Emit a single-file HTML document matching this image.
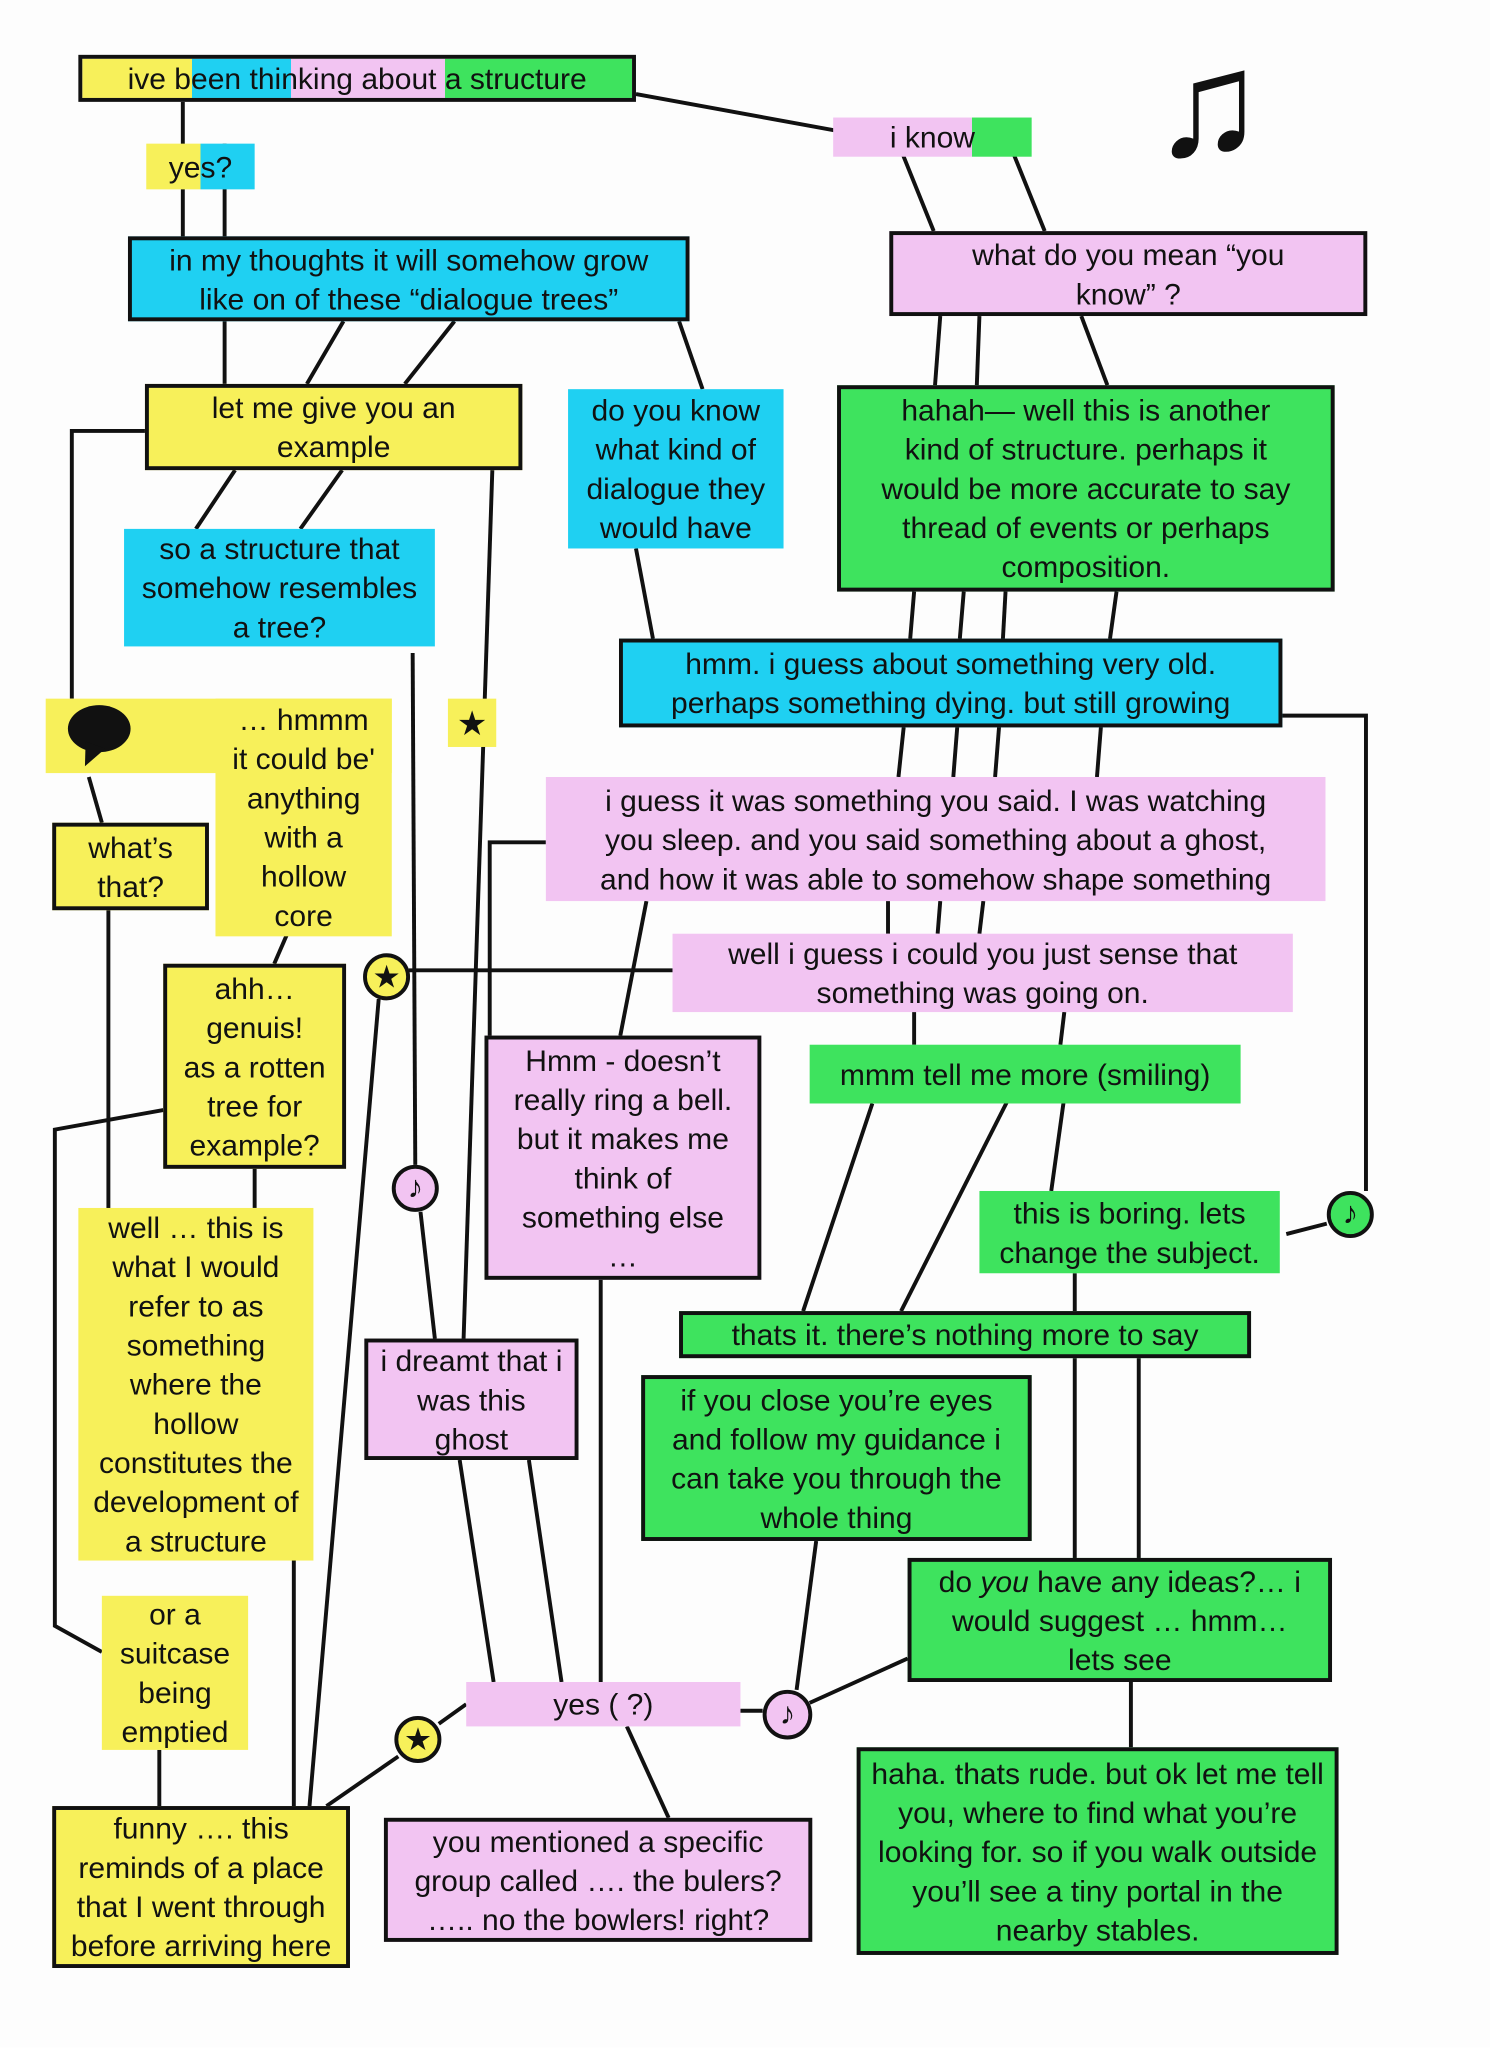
<!DOCTYPE html>
<html><head><meta charset="utf-8"><style>
html,body{margin:0;padding:0;background:#fff;}
#w{position:relative;width:1141px;height:1568px;transform:scale(1.3059);transform-origin:0 0;font-family:"Liberation Sans",sans-serif;color:#111;overflow:hidden;background:#fdfdfd}
.b{position:absolute;box-sizing:border-box;border:3px solid #111;display:flex;align-items:center;justify-content:center;text-align:center;font-size:23px;line-height:30px}
.h{position:absolute;box-sizing:border-box;display:flex;align-items:center;justify-content:center;text-align:center;font-size:23px;line-height:30px}
.Y{background:#f7f05a}.C{background:#1fd0f2}.P{background:#f2c4f2}.G{background:#3ee35e}
.c{position:absolute;box-sizing:border-box;border:3px solid #111;border-radius:50%;display:flex;align-items:center;justify-content:center;font-size:24px}
svg{position:absolute;left:0;top:0}
</style></head><body><div id="w">
<svg width="1141" height="1568"><g stroke="#111" stroke-width="3" fill="none">
<line x1="487" y1="72" x2="640" y2="100"/>
<line x1="140" y1="78" x2="140" y2="181"/><line x1="172" y1="110" x2="172" y2="181"/>
<line x1="690" y1="115" x2="715" y2="177"/><line x1="775" y1="115" x2="800" y2="177"/>
<line x1="172" y1="246" x2="172" y2="294"/><line x1="263" y1="246" x2="235" y2="294"/><line x1="348" y1="246" x2="310" y2="294"/>
<line x1="520" y1="246" x2="538" y2="298"/>
<line x1="720" y1="242" x2="716" y2="295"/><line x1="750" y1="242" x2="748" y2="295"/><line x1="828" y1="242" x2="848" y2="295"/>
<line x1="180" y1="360" x2="150" y2="405"/><line x1="262" y1="360" x2="230" y2="405"/>
<polyline points="111,330 55,330 55,535"/>
<line x1="68" y1="595" x2="78" y2="630"/>
<line x1="377" y1="360" x2="355" y2="1025"/>
<line x1="316" y1="500" x2="318" y2="892"/>
<line x1="487" y1="420" x2="500" y2="489"/>
<line x1="700" y1="453" x2="697" y2="489"/><line x1="738" y1="453" x2="735" y2="489"/><line x1="770" y1="453" x2="768" y2="489"/><line x1="855" y1="453" x2="850" y2="489"/>
<line x1="692" y1="557" x2="688" y2="595"/><line x1="733" y1="557" x2="730" y2="595"/><line x1="765" y1="557" x2="762" y2="595"/><line x1="843" y1="557" x2="840" y2="595"/>
<polyline points="982,548 1046,548 1046,912"/>
<line x1="680" y1="690" x2="680" y2="715"/><line x1="720" y1="690" x2="718" y2="715"/><line x1="753" y1="690" x2="750" y2="715"/>
<polyline points="418,645 375,645 375,793"/>
<line x1="495" y1="690" x2="475" y2="793"/>
<line x1="313" y1="743" x2="515" y2="743"/>
<line x1="210" y1="738" x2="220" y2="715"/>
<line x1="83" y1="697" x2="83" y2="930"/>
<polyline points="125,850 42,865 42,1245 78,1265"/>
<line x1="195" y1="895" x2="195" y2="925"/>
<line x1="290" y1="765" x2="237" y2="1383"/>
<line x1="322" y1="928" x2="333" y2="1025"/>
<line x1="700" y1="775" x2="700" y2="800"/><line x1="815" y1="775" x2="812" y2="800"/>
<line x1="668" y1="845" x2="615" y2="1004"/><line x1="773" y1="840" x2="690" y2="1004"/><line x1="815" y1="840" x2="805" y2="912"/>
<line x1="823" y1="975" x2="823" y2="1004"/><line x1="985" y1="945" x2="1016" y2="937"/>
<line x1="460" y1="980" x2="460" y2="1288"/>
<line x1="823" y1="1040" x2="823" y2="1193"/><line x1="872" y1="1040" x2="872" y2="1193"/>
<line x1="625" y1="1180" x2="610" y2="1294"/>
<line x1="620" y1="1304" x2="695" y2="1270"/>
<line x1="866" y1="1288" x2="866" y2="1338"/>
<line x1="352" y1="1118" x2="378" y2="1288"/><line x1="405" y1="1118" x2="430" y2="1288"/>
<line x1="480" y1="1322" x2="512" y2="1392"/>
<line x1="357" y1="1305" x2="336" y2="1320"/><line x1="305" y1="1345" x2="250" y2="1383"/>
<line x1="122" y1="1340" x2="122" y2="1383"/>
<line x1="225" y1="1195" x2="225" y2="1383"/>
<line x1="567" y1="1310" x2="584" y2="1310"/>
</g></svg>
<div class="b" style="left:60px;top:42px;width:427px;height:36px;background:linear-gradient(90deg,#f7f05a 0 20%,#1fd0f2 20% 38%,#f2c4f2 38% 66%,#3ee35e 66%)">ive been thinking about a structure</div>
<div class="h" style="left:112px;top:110px;width:83px;height:35px;background:linear-gradient(90deg,#f7f05a 0 50%,#1fd0f2 50%)">yes?</div>
<div class="b C" style="left:98px;top:181px;width:430px;height:65px">in my thoughts it will somehow grow<br>like on of these “dialogue trees”</div>
<div class="h" style="left:638px;top:90px;width:152px;height:30px;background:linear-gradient(90deg,#f2c4f2 0 70%,#3ee35e 70%)">i know</div>
<div style="position:absolute;left:882px;top:25px;font-size:115px;line-height:110px;font-weight:bold">♫</div>
<div class="b P" style="left:681px;top:177px;width:366px;height:65px">what do you mean “you<br>know” ?</div>
<div class="b Y" style="left:111px;top:294px;width:289px;height:66px">let me give you an<br>example</div>
<div class="h C" style="left:435px;top:298px;width:165px;height:122px">do you know<br>what kind of<br>dialogue they<br>would have</div>
<div class="b G" style="left:641px;top:295px;width:381px;height:158px">hahah— well this is another<br>kind of structure. perhaps it<br>would be more accurate to say<br>thread of events or perhaps<br>composition.</div>
<div class="h C" style="left:95px;top:405px;width:238px;height:90px">so a structure that<br>somehow resembles<br>a tree?</div>
<div class="b C" style="left:474px;top:489px;width:508px;height:68px">hmm. i guess about something very old.<br>perhaps something dying. but still growing</div>
<div class="h Y" style="left:35px;top:535px;width:265px;height:57px"></div>
<div class="h Y" style="left:165px;top:535px;width:135px;height:182px">… hmmm<br>it could be'<br>anything<br>with a<br>hollow<br>core</div>
<div style="position:absolute;left:52px;top:540px;width:48px;height:36px;background:#111;border-radius:50%"></div>
<div style="position:absolute;left:62px;top:570px;width:0;height:0;border-left:6px solid transparent;border-right:10px solid transparent;border-top:18px solid #111;transform:rotate(20deg)"></div>
<div class="h Y" style="left:343px;top:535px;width:37px;height:37px;font-size:26px">★</div>
<div class="b Y" style="left:40px;top:630px;width:120px;height:67px">what’s<br>that?</div>
<div class="h P" style="left:418px;top:595px;width:597px;height:95px">i guess it was something you said. I was watching<br>you sleep. and you said something about a ghost,<br>and how it was able to somehow shape something</div>
<div class="b Y" style="left:125px;top:738px;width:140px;height:157px">ahh…<br>genuis!<br>as a rotten<br>tree for<br>example?</div>
<div class="c Y" style="left:278px;top:730px;width:36px;height:36px">★</div>
<div class="h P" style="left:515px;top:715px;width:475px;height:60px">well i guess i could you just sense that<br>something was going on.</div>
<div class="b P" style="left:371px;top:793px;width:212px;height:187px">Hmm - doesn’t<br>really ring a bell.<br>but it makes me<br>think of<br>something else<br>…</div>
<div class="h G" style="left:620px;top:800px;width:330px;height:45px">mmm tell me more (smiling)</div>
<div class="c P" style="left:300px;top:892px;width:36px;height:36px">♪</div>
<div class="h Y" style="left:60px;top:925px;width:180px;height:270px">well … this is<br>what I would<br>refer to as<br>something<br>where the<br>hollow<br>constitutes the<br>development of<br>a structure</div>
<div class="h G" style="left:750px;top:912px;width:230px;height:63px">this is boring. lets<br>change the subject.</div>
<div class="c G" style="left:1016px;top:912px;width:36px;height:36px">♪</div>
<div class="b G" style="left:520px;top:1004px;width:438px;height:36px">thats it. there’s nothing more to say</div>
<div class="b P" style="left:279px;top:1025px;width:164px;height:93px">i dreamt that i<br>was this<br>ghost</div>
<div class="b G" style="left:491px;top:1053px;width:299px;height:127px">if you close you’re eyes<br>and follow my guidance i<br>can take you through the<br>whole thing</div>
<div class="b G" style="left:695px;top:1193px;width:325px;height:95px"><div>do <i>you</i> have any ideas?… i<br>would suggest … hmm…<br>lets see</div></div>
<div class="h Y" style="left:78px;top:1222px;width:112px;height:118px">or a<br>suitcase<br>being<br>emptied</div>
<div class="h P" style="left:357px;top:1288px;width:210px;height:34px">yes ( ?)</div>
<div class="c P" style="left:584px;top:1294px;width:38px;height:38px">♪</div>
<div class="c Y" style="left:302px;top:1314px;width:36px;height:36px">★</div>
<div class="b G" style="left:656px;top:1338px;width:369px;height:159px">haha. thats rude. but ok let me tell<br>you, where to find what you’re<br>looking for. so if you walk outside<br>you’ll see a tiny portal in the<br>nearby stables.</div>
<div class="b Y" style="left:40px;top:1383px;width:228px;height:124px">funny …. this<br>reminds of a place<br>that I went through<br>before arriving here</div>
<div class="b P" style="left:294px;top:1392px;width:328px;height:95px">you mentioned a specific<br>group called …. the bulers?<br>….. no the bowlers! right?</div>
</div></body></html>
